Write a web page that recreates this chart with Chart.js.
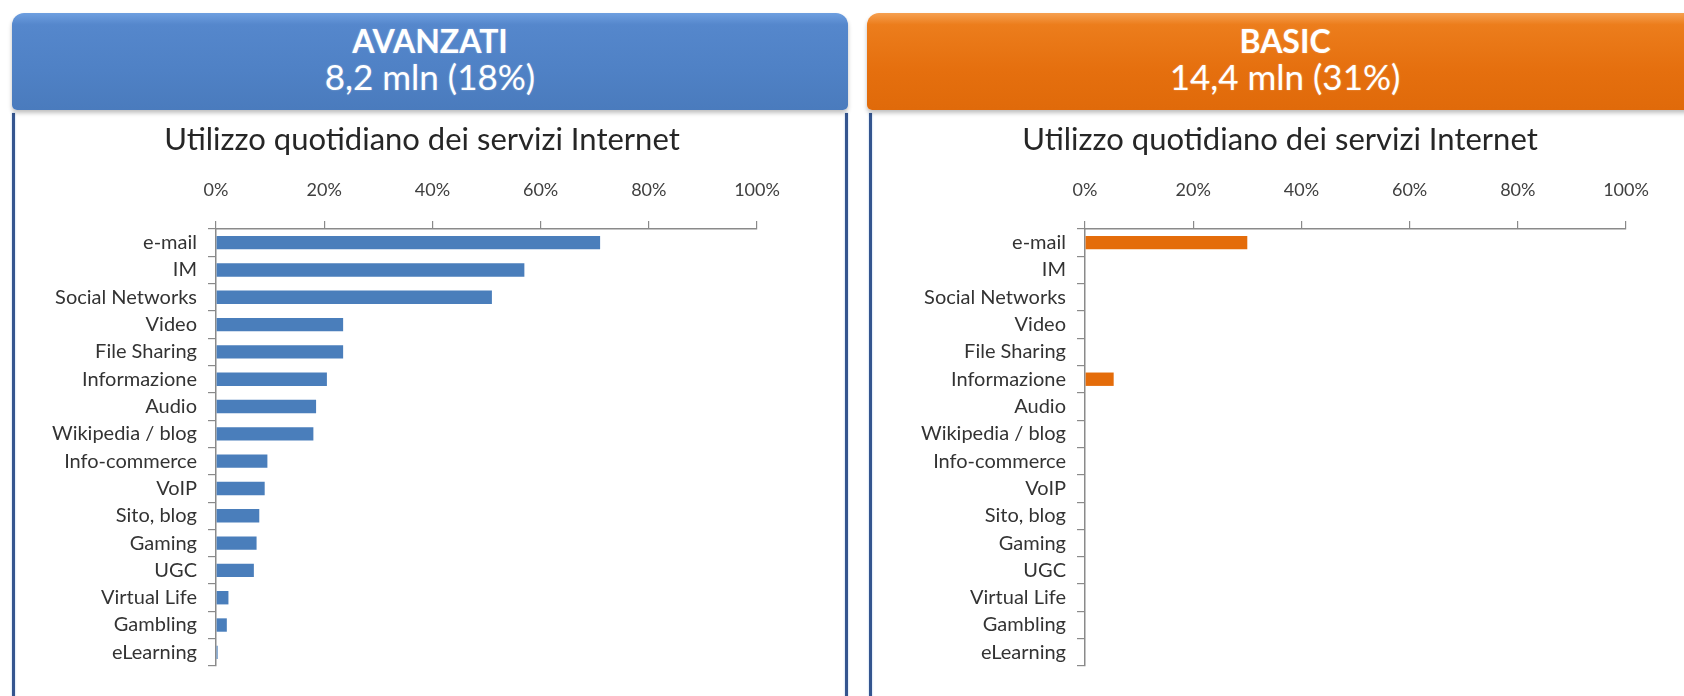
<!DOCTYPE html>
<html>
<head>
<meta charset="utf-8">
<script src="https://cdn.jsdelivr.net/npm/chart.js@4"></script>
<style>
  html, body { margin: 0; padding: 0; }
  body { width: 1684px; height: 696px; overflow: hidden; background: #fff; position: relative; font-family: Lato, "Open Sans", sans-serif; }
  .panel { position: absolute; top: 13px; bottom: -10px; width: 836px; }
  .border { position: absolute; top: 100px; bottom: 0; width: 3px; background: #34558f; box-shadow: 0 0 2px #9fc0e8; }
  .head {
    position: absolute; left: 0; top: 0; width: 100%; height: 97px; box-sizing: border-box;
    border-radius: 12px 12px 5px 5px; padding-top: 9px;
    color: #fff; text-align: center;
    box-shadow: 0 3px 4px rgba(0,0,0,0.25);
    text-shadow: 0 0 2px rgba(255,255,255,0.35);
  }
  .head b { display: block; font-weight: 700; font-size: 32px; line-height: 38px; }
  .head span { display: block; font-size: 35px; line-height: 38px; margin-top: -3px; }
  .blue { background: linear-gradient(#6e9fe0 0%, #5587cc 12%, #4f81c5 60%, #4a7bbd 100%); }
  .orange { background: linear-gradient(#f6a050 0%, #ec7d1c 12%, #e56f0e 60%, #e06a0a 100%); }
  .box { position: absolute; top: 97px; height: 586px; }
</style>
</head>
<body>
<div class="panel" style="left:12px">
  <div class="border" style="left:0"></div>
  <div class="border" style="left:833px"></div>
  <div class="head blue"><b>AVANZATI</b><span>8,2 mln (18%)</span></div>
  <div class="box" style="left:4px;width:828px"><canvas id="chartAvanzati"></canvas></div>
</div>
<div class="panel" style="left:867px">
  <div class="border" style="left:2px"></div>
  <div class="head orange"><b>BASIC</b><span>14,4 mln (31%)</span></div>
  <div class="box" style="left:5px;width:828px"><canvas id="chartBasic"></canvas></div>
</div>
<script>
const categories = ['e-mail', 'IM', 'Social Networks', 'Video', 'File Sharing', 'Informazione', 'Audio',
    'Wikipedia / blog', 'Info-commerce', 'VoIP', 'Sito, blog', 'Gaming', 'UGC', 'Virtual Life', 'Gambling', 'eLearning'];
const avanzatiValues = [71, 57, 51, 23.5, 23.5, 20.5, 18.5, 18, 9.5, 9, 8, 7.5, 7, 2.3, 2, 0.3];
const basicValues = [30, 0, 0, 0, 0, 5.3, 0, 0, 0, 0, 0, 0, 0, 0, 0, 0];
const xTicks = [0, 20, 40, 60, 80, 100];
const chartTitle = 'Utilizzo quotidiano dei servizi Internet';

Chart.defaults.font.family = 'Lato, "Open Sans", sans-serif';

// an empty axis on the right keeps room after the plot, so the title can sit off-centre of the plot
function makeChart(id, values, color, yWidth, rightWidth, padRight) {
    new Chart(document.getElementById(id), {
        type: 'bar',
        data: {
            labels: categories,
            datasets: [{
                data: values,
                backgroundColor: color,
                borderWidth: 0,
                barPercentage: 0.49,
                categoryPercentage: 1
            }]
        },
        options: {
            indexAxis: 'y',
            responsive: true,
            maintainAspectRatio: false,
            animation: false,
            devicePixelRatio: 1,
            layout: { padding: { left: 0, right: padRight, top: 0, bottom: 30 } },
            plugins: {
                legend: { display: false },
                tooltip: { enabled: false },
                title: {
                    display: true,
                    text: chartTitle,
                    color: '#262626',
                    font: { size: 31, weight: 'normal' },
                    padding: { top: 11.4, bottom: 10 }
                }
            },
            scales: {
                x: {
                    position: 'top',
                    min: 0,
                    max: 100,
                    afterBuildTicks: (scale) => { scale.ticks = xTicks.map(v => ({ value: v })); },
                    afterFit: (scale) => { scale.height = 60.4; },
                    border: { display: true, color: '#8a8a8a', width: 1.5 },
                    grid: { drawOnChartArea: false, drawTicks: true, tickLength: 8, color: '#8a8a8a', lineWidth: 1.2 },
                    ticks: {
                        callback: (v) => v + '%',
                        color: '#404040',
                        font: { size: 18 },
                        padding: 20,
                        maxRotation: 0
                    }
                },
                y: {
                    afterFit: (scale) => { scale.width = yWidth; },
                    border: { display: true, color: '#8a8a8a', width: 1.5 },
                    grid: { drawOnChartArea: false, drawTicks: true, tickLength: 8, color: '#8a8a8a', lineWidth: 1.2, offset: true },
                    ticks: {
                        color: '#333333',
                        font: { size: 20 },
                        padding: 11,
                        autoSkip: false
                    }
                },
                yRight: {
                    type: 'category',
                    position: 'right',
                    afterFit: (scale) => { scale.width = rightWidth; },
                    border: { display: false },
                    grid: { display: false },
                    ticks: { display: false }
                }
            }
        }
    });
}

makeChart('chartAvanzati', avanzatiValues, '#4a7ebb', 200, 71, 16);
makeChart('chartBasic', basicValues, '#e46c0a', 213, 62, 12);
</script>
</body>
</html>
